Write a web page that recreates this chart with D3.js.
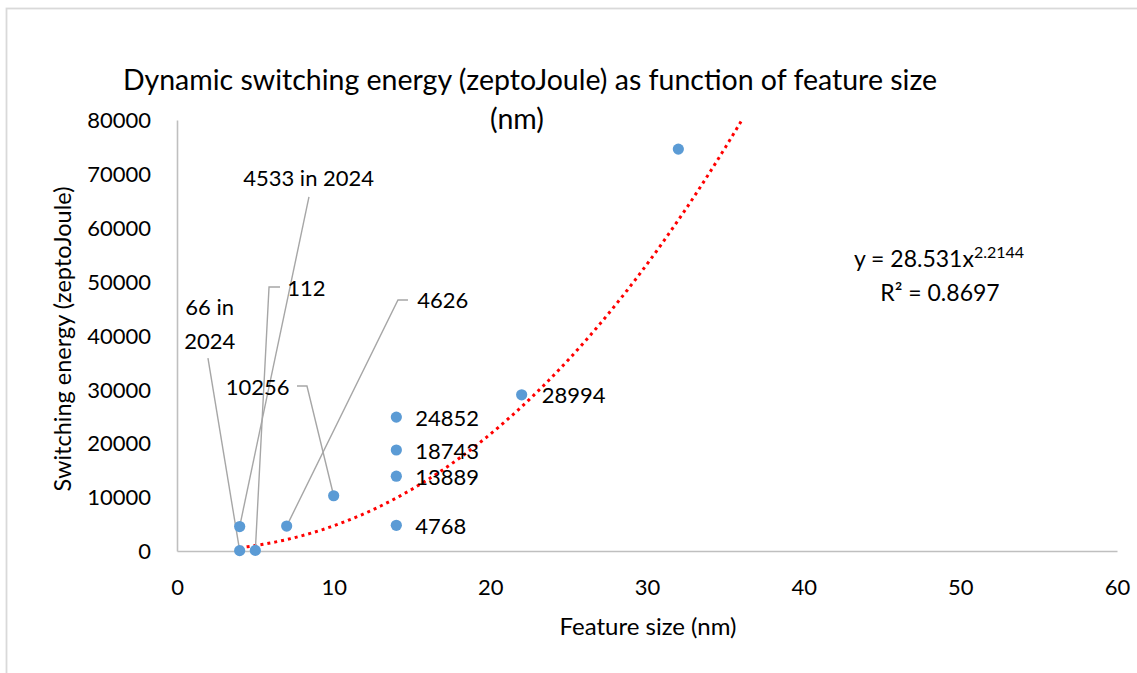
<!DOCTYPE html>
<html>
<head>
<meta charset="utf-8">
<script src="https://cdn.jsdelivr.net/npm/d3@7"></script>
<style>
  body { margin: 0; background: #fff; }
  svg text { font-family: Lato, "Open Sans", sans-serif; fill: #000; }
</style>
</head>
<body>
<div id="chart"></div>
<script>
// data
const featureSize = [4, 5, 4, 7, 10, 14, 14, 14, 14, 22, 32]
const energy = [66, 112, 4533, 4626, 10256, 24852, 18743, 13889, 4768, 28994, 74600]
const pointLabels = [["66 in", "2024"], ["112"], ["4533 in 2024"], ["4626"], ["10256"],
  ["24852"], ["18743"], ["13889"], ["4768"], ["28994"], []]
const xTicks = [0, 10, 20, 30, 40, 50, 60]
const yTicks = [0, 10000, 20000, 30000, 40000, 50000, 60000, 70000, 80000]
// power trendline shown on the chart
const trendA = 28.531
const trendB = 2.2144
const trendFrom = 4
const trendTo = 36

// label placement, pixels relative to the point
const labelLayout = [
  { dx: -30, dy: -243, lead: [[-31.7, -192.6]] },
  { dx: 51, dy: -262, lead: [[24.7, -263.4], [13.7, -263.4]] },
  { dx: 69, dy: -348, lead: [[69.3, -329.6]] },
  { dx: 156, dy: -226, lead: [[121.3, -226.1], [111.3, -226.1]] },
  { dx: -76, dy: -108, lead: [[-36.7, -109.7], [-26.7, -109.7]] },
  { dx: 19, dy: 1, anchor: 'start' },
  { dx: 19, dy: 1, anchor: 'start' },
  { dx: 19, dy: 1, anchor: 'start' },
  { dx: 19, dy: 1, anchor: 'start' },
  { dx: 20, dy: 1, anchor: 'start' },
  null
]

const W = 1137, H = 673
const svg = d3.select('#chart').append('svg')
  .attr('width', W)
  .attr('height', H)

// chart border
svg.append('rect')
  .attr('x', 6.5).attr('y', 8.5)
  .attr('width', 1300).attr('height', 1000)
  .attr('fill', 'none')
  .attr('stroke', '#d9d9d9')
  .attr('stroke-width', 1.8)

const x = d3.scaleLinear().domain([0, 60]).range([177, 1117])
const y = d3.scaleLinear().domain([0, 80000]).range([551, 120])

const xAxis = svg.append('g')
  .attr('transform', 'translate(0,' + y(0) + ')')
  .call(d3.axisBottom(x).tickValues(xTicks).tickSize(0).tickSizeOuter(0).tickPadding(28))
const yAxis = svg.append('g')
  .attr('transform', 'translate(' + x(0) + ',0)')
  .call(d3.axisLeft(y).tickValues(yTicks).tickFormat(d3.format('d')).tickSize(0).tickSizeOuter(0).tickPadding(26))

svg.selectAll('.domain').attr('stroke', '#bfbfbf').attr('stroke-width', 1.6)
svg.selectAll('.tick text')
  .style('font-family', 'Lato, sans-serif')
  .style('font-size', '22px')
  .attr('fill', '#000')
yAxis.selectAll('.tick text').attr('dy', '0.35em')

// titles
const title = svg.append('text')
  .attr('text-anchor', 'middle')
  .style('font-size', '28.5px')
title.append('tspan').attr('x', 530).attr('y', 90).text('Dynamic switching energy (zeptoJoule) as function of feature size')
title.append('tspan').attr('x', 517).attr('y', 129).text('(nm)')

svg.append('text')
  .attr('x', 648).attr('y', 635)
  .attr('text-anchor', 'middle')
  .style('font-size', '24px')
  .text('Feature size (nm)')

svg.append('text')
  .attr('transform', 'translate(71,339) rotate(-90)')
  .attr('text-anchor', 'middle')
  .style('font-size', '23.5px')
  .text('Switching energy (zeptoJoule)')

// trendline
const trendPts = d3.range(trendFrom, trendTo + 0.001, 0.25).map(v => [v, trendA * Math.pow(v, trendB)])
svg.append('path')
  .datum(trendPts)
  .attr('d', d3.line().x(d => x(d[0])).y(d => y(d[1])))
  .attr('fill', 'none')
  .attr('stroke', '#ff0000')
  .attr('stroke-width', 3)
  .attr('stroke-dasharray', '3 4')

const pts = featureSize.map((v, i) => ({ px: x(v), py: y(energy[i]), label: pointLabels[i], lay: labelLayout[i] }))

// leader lines
svg.selectAll('polyline.leader')
  .data(pts.filter(p => p.lay && p.lay.lead))
  .enter()
  .append('polyline')
  .attr('class', 'leader')
  .attr('points', p => p.lay.lead.concat([[0, 0]]).map(q => (p.px + q[0]) + ',' + (p.py + q[1])).join(' '))
  .attr('fill', 'none')
  .attr('stroke', '#a6a6a6')
  .attr('stroke-width', 1.4)

svg.selectAll('circle')
  .data(pts)
  .enter()
  .append('circle')
  .attr('cx', p => p.px)
  .attr('cy', p => p.py)
  .attr('r', 5.6)
  .attr('fill', '#5b9bd5')

// data labels
const lbl = svg.selectAll('text.dlabel')
  .data(pts.filter(p => p.lay))
  .enter()
  .append('text')
  .attr('class', 'dlabel')
  .attr('text-anchor', p => p.lay.anchor || 'middle')
  .style('font-size', '22px')
lbl.selectAll('tspan')
  .data(p => p.label.map((t, k) => ({ t: t, k: k, p: p })))
  .enter()
  .append('tspan')
  .attr('x', d => d.p.px + d.p.lay.dx)
  .attr('y', d => d.p.py + d.p.lay.dy + d.k * 34)
  .attr('dy', '0.35em')
  .text(d => d.t)

// equation
const eq = svg.append('text')
  .attr('x', 939).attr('y', 267)
  .attr('text-anchor', 'middle')
  .style('font-size', '23px')
eq.append('tspan').text('y = ' + trendA + 'x')
eq.append('tspan').attr('dy', -9).style('font-size', '16px').text(trendB)
svg.append('text')
  .attr('x', 940).attr('y', 301)
  .attr('text-anchor', 'middle')
  .style('font-size', '23px')
  .text('R² = 0.8697')
</script>
</body>
</html>
